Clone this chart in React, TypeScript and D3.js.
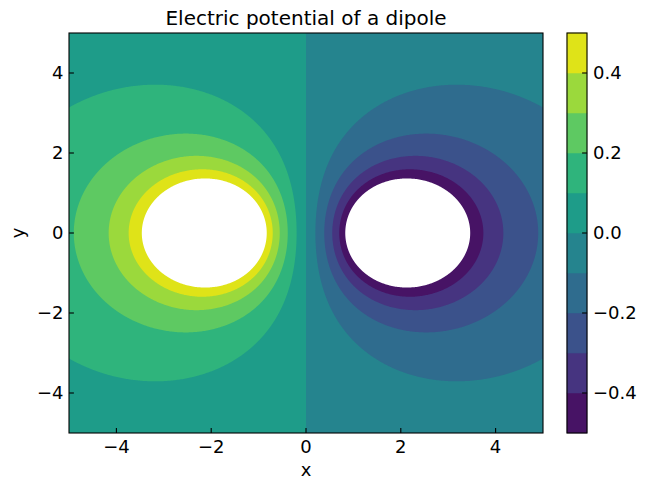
import React, { useMemo } from "react";
import * as d3 from "d3";

// Dipole definition (charges and their positions)
const chargeX = [-2, 2];
const chargeY = [0, 0];
const chargeQ = [1, -1];

// Contour levels and ticks
const levels = [-0.5, -0.4, -0.3, -0.2, -0.1, 0.0, 0.1, 0.2, 0.3, 0.4, 0.5];
const xTicks = [-4, -2, 0, 2, 4];
const yTicks = [-4, -2, 0, 2, 4];
const cbTicks = [-0.4, -0.2, 0.0, 0.2, 0.4];
const xDomain = [-5, 5];
const yDomain = [-5, 5];

const W = 650;
const H = 491;
const PL = 69;
const PR = 543;
const PT = 33;
const PB = 433;
const CBL = 567;
const CBR = 587;
const FONT = "DejaVu Sans, Liberation Sans, sans-serif";
const GRID = 400;

const fmtTick = (v: number) => (v < 0 ? "\u2212" : "") + Math.abs(v).toString();
const fmtCb = (v: number) => (v < 0 ? "\u2212" : "") + Math.abs(v).toFixed(1);

export default function App() {
  const xScale = d3.scaleLinear().domain(xDomain).range([PL, PR]);
  const yScale = d3.scaleLinear().domain(yDomain).range([PB, PT]);
  const cbScale = d3.scaleLinear().domain([levels[0], levels[levels.length - 1]]).range([PB, PT]);
  const nBands = levels.length - 1;
  const bandColor = (i: number) => d3.interpolateViridis((i + 0.5) / nBands);

  const layers = useMemo(() => {
    const n = GRID;
    const hx = (xDomain[1] - xDomain[0]) / n;
    const hy = (yDomain[1] - yDomain[0]) / n;
    const values = new Float64Array(n * n);
    for (let j = 0; j < n; j++) {
      const y = yDomain[1] - (j + 0.5) * hy;
      for (let i = 0; i < n; i++) {
        const x = xDomain[0] + (i + 0.5) * hx;
        let v = 0;
        for (let k = 0; k < chargeQ.length; k++) {
          const dx = x - chargeX[k];
          const dy = y - chargeY[k];
          v += chargeQ[k] / Math.sqrt(dx * dx + dy * dy);
        }
        values[j * n + i] = v;
      }
    }
    const contours = d3.contours().size([n, n]).thresholds(levels)(Array.from(values));
    const proj = d3.geoTransform({
      point(this: any, gx: number, gy: number) {
        const dxv = xDomain[0] + gx * hx;
        const dyv = yDomain[1] - gy * hy;
        this.stream.point(xScale(dxv), yScale(dyv));
      },
    });
    const path = d3.geoPath(proj);
    return contours.map((c, i) => ({
      d: path(c as any) || "",
      fill: i < nBands ? bandColor(i) : "#ffffff",
    }));
  }, []);

  return (
    <svg width={W} height={H} style={{ display: "block", position: "absolute", left: 0, top: 0 }}>
      <rect x={0} y={0} width={W} height={H} fill="#ffffff" />
      <defs>
        <clipPath id="plotclip">
          <rect x={PL} y={PT} width={PR - PL} height={PB - PT} />
        </clipPath>
      </defs>
      <g clipPath="url(#plotclip)">
        {layers.map((l, i) => (
          <path key={i} d={l.d} fill={l.fill} stroke="none" />
        ))}
      </g>
      {/* x ticks */}
      {xTicks.map((t) => (
        <g key={"xt" + t}>
          <line x1={xScale(t)} x2={xScale(t)} y1={PB} y2={PB - 4.9} stroke="#000" strokeWidth={1.1} />
          <text x={xScale(t)} y={452.5} textAnchor="middle" fontFamily={FONT} fontSize={18} fill="#000">
            {fmtTick(t)}
          </text>
        </g>
      ))}
      {/* y ticks */}
      {yTicks.map((t) => (
        <g key={"yt" + t}>
          <line x1={PL} x2={PL + 4.9} y1={yScale(t)} y2={yScale(t)} stroke="#000" strokeWidth={1.1} />
          <text x={63.5} y={yScale(t)} dy="0.36em" textAnchor="end" fontFamily={FONT} fontSize={18} fill="#000">
            {fmtTick(t)}
          </text>
        </g>
      ))}
      <rect x={PL} y={PT} width={PR - PL} height={PB - PT} fill="none" stroke="#000" strokeWidth={1.1} />
      <text x={(PL + PR) / 2} y={476} textAnchor="middle" fontFamily={FONT} fontSize={18} fill="#000">x</text>
      <text
        transform={`translate(24, ${(PT + PB) / 2}) rotate(-90)`}
        textAnchor="middle"
        fontFamily={FONT}
        fontSize={18}
        fill="#000"
      >
        y
      </text>
      <text x={(PL + PR) / 2} y={25} textAnchor="middle" fontFamily={FONT} fontSize={20} fill="#000">
        Electric potential of a dipole
      </text>
      {/* colorbar */}
      {levels.slice(0, -1).map((l, i) => (
        <rect
          key={"cb" + i}
          x={CBL}
          width={CBR - CBL}
          y={cbScale(levels[i + 1])}
          height={cbScale(l) - cbScale(levels[i + 1])}
          fill={bandColor(i)}
          stroke={bandColor(i)}
          strokeWidth={0.5}
        />
      ))}
      {cbTicks.map((t) => (
        <g key={"cbt" + t}>
          <line x1={CBR} x2={CBR - 4.9} y1={cbScale(t)} y2={cbScale(t)} stroke="#000" strokeWidth={1.1} />
          <text x={593} y={cbScale(t)} dy="0.36em" textAnchor="start" fontFamily={FONT} fontSize={18} fill="#000">
            {fmtCb(t)}
          </text>
        </g>
      ))}
      <rect x={CBL} y={PT} width={CBR - CBL} height={PB - PT} fill="none" stroke="#000" strokeWidth={1.1} />
    </svg>
  );
}
